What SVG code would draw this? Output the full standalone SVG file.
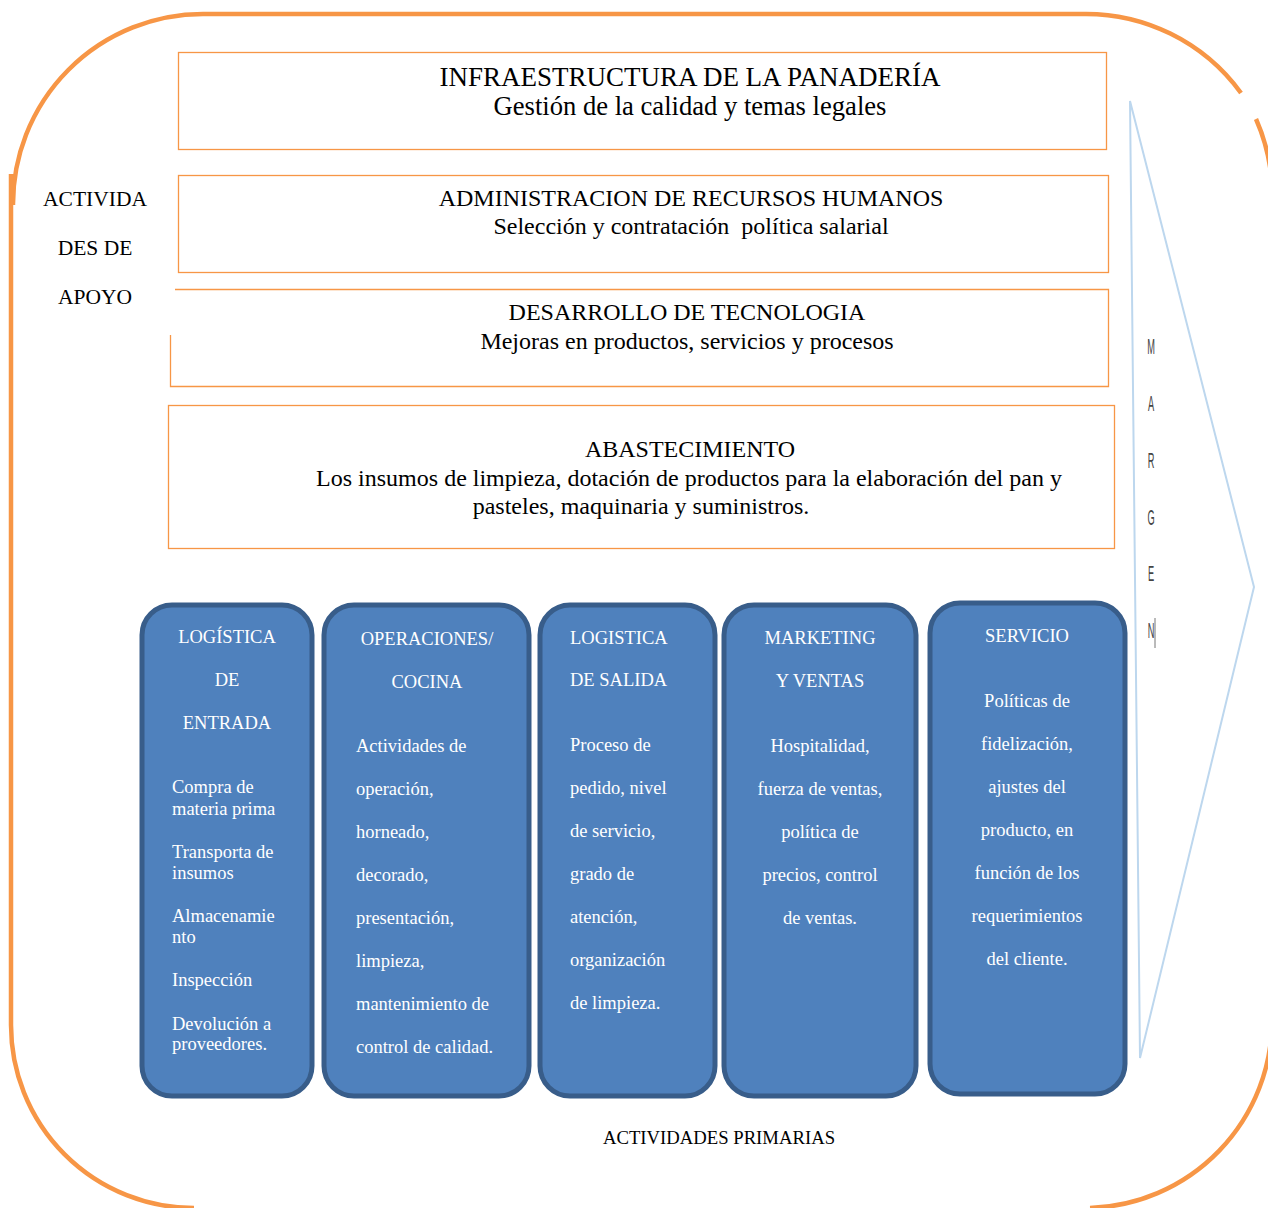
<svg xmlns="http://www.w3.org/2000/svg" width="1268" height="1208" viewBox="0 0 1268 1208">
<style>
.frame{fill:none;stroke:#F79646;stroke-width:4.5}
.sup{fill:none;stroke:#F79646;stroke-width:1.3}
.t{font-family:"Liberation Serif","Times New Roman",serif;fill:#000}
.h{font-size:24px;text-anchor:middle}
.s{font-size:24px;text-anchor:middle}
.lab{font-size:21.5px;text-anchor:middle}
.pbox{fill:#4F81BD;stroke:#385D8A;stroke-width:5}
.w{font-family:"Liberation Serif","Times New Roman",serif;fill:#fff;font-size:18.5px}
.c{text-anchor:middle}
.arrow{fill:none;stroke:#BDD7EE;stroke-width:2;stroke-linejoin:miter}
.mg{font-family:"Liberation Sans",Arial,sans-serif;font-size:22px;fill:#444;text-anchor:middle}
</style>
<rect width="1268" height="1208" fill="#fff"/>
<g id="frame">
<path class="frame" d="M13,174 V205 A190,190 0 0 1 203,14 H1080 A192,192 0 0 1 1241,93"/>
<path class="frame" d="M1256,119 A192,192 0 0 1 1272,185 V1020 A188,188 0 0 1 1090,1208"/>
<path class="frame" d="M11,174 V1025 A183,183 0 0 0 194,1208"/>
</g>
<g id="support-label">
<text class="t lab" x="95" y="206">ACTIVIDA</text>
<text class="t lab" x="95" y="255">DES DE</text>
<text class="t lab" x="95" y="304">APOYO</text>
</g>
<g id="infraestructura">
<rect class="sup" x="178.5" y="52.5" width="928" height="97"/>
<text class="t h" x="690" y="86" style="font-size:27px">INFRAESTRUCTURA DE LA PANADERÍA</text>
<text class="t s" x="690" y="115" style="font-size:26.6px">Gestión de la calidad y temas legales</text>
</g>
<g id="rrhh">
<rect class="sup" x="178.5" y="175.5" width="930" height="97"/>
<text class="t h" x="691" y="206">ADMINISTRACION DE RECURSOS HUMANOS</text>
<text class="t s" x="691" y="234" xml:space="preserve">Selección y contratación  política salarial</text>
</g>
<g id="tecnologia">
<path class="sup" d="M175,289.5 H1108.5 V386.5 H170.5 V335"/>
<text class="t h" x="687" y="320">DESARROLLO DE TECNOLOGIA</text>
<text class="t s" x="687" y="349">Mejoras en productos, servicios y procesos</text>
</g>
<g id="abastecimiento">
<rect class="sup" x="168.5" y="405.5" width="946" height="143"/>
<text class="t h" x="690" y="457">ABASTECIMIENTO</text>
<text class="t s" x="689" y="486">Los insumos de limpieza, dotación de productos para la elaboración del pan y</text>
<text class="t s" x="641" y="514">pasteles, maquinaria y suministros.</text>
</g>
<g id="margen">
<path class="arrow" d="M1130,101 L1254,587 L1140,1058 Z"/>
<g transform="translate(1151,0) scale(0.42,1)">
<text class="mg" x="0" y="354">M</text>
<text class="mg" x="0" y="411">A</text>
<text class="mg" x="0" y="468">R</text>
<text class="mg" x="0" y="525">G</text>
<text class="mg" x="0" y="581">E</text>
<text class="mg" x="0" y="638">N</text>
</g>
<line x1="1155" y1="618" x2="1155" y2="648" stroke="#777" stroke-width="1"/>
</g>
<g id="logistica-entrada">
<rect class="pbox" x="142" y="605" width="170" height="491" rx="30"/>
<text class="w c" x="227" y="643">LOGÍSTICA</text>
<text class="w c" x="227" y="686">DE</text>
<text class="w c" x="227" y="729">ENTRADA</text>
<text class="w" x="172" y="793">Compra de</text>
<text class="w" x="172" y="815">materia prima</text>
<text class="w" x="172" y="858">Transporta de</text>
<text class="w" x="172" y="879">insumos</text>
<text class="w" x="172" y="922">Almacenamie</text>
<text class="w" x="172" y="943">nto</text>
<text class="w" x="172" y="986">Inspección</text>
<text class="w" x="172" y="1030">Devolución a</text>
<text class="w" x="172" y="1050">proveedores.</text>
</g>
<g id="operaciones">
<rect class="pbox" x="324" y="605" width="205" height="491" rx="30"/>
<text class="w c" x="427" y="645">OPERACIONES/</text>
<text class="w c" x="427" y="688">COCINA</text>
<text class="w" x="356" y="752">Actividades de</text>
<text class="w" x="356" y="795">operación,</text>
<text class="w" x="356" y="838">horneado,</text>
<text class="w" x="356" y="881">decorado,</text>
<text class="w" x="356" y="924">presentación,</text>
<text class="w" x="356" y="967">limpieza,</text>
<text class="w" x="356" y="1010">mantenimiento de</text>
<text class="w" x="356" y="1053">control de calidad.</text>
</g>
<g id="logistica-salida">
<rect class="pbox" x="540" y="605" width="175" height="491" rx="30"/>
<text class="w" x="570" y="644">LOGISTICA</text>
<text class="w" x="570" y="686">DE SALIDA</text>
<text class="w" x="570" y="751">Proceso de</text>
<text class="w" x="570" y="794">pedido, nivel</text>
<text class="w" x="570" y="837">de servicio,</text>
<text class="w" x="570" y="880">grado de</text>
<text class="w" x="570" y="923">atención,</text>
<text class="w" x="570" y="966">organización</text>
<text class="w" x="570" y="1009">de limpieza.</text>
</g>
<g id="marketing">
<rect class="pbox" x="724" y="605" width="192" height="491" rx="30"/>
<text class="w c" x="820" y="644">MARKETING</text>
<text class="w c" x="820" y="687">Y VENTAS</text>
<text class="w c" x="820" y="752">Hospitalidad,</text>
<text class="w c" x="820" y="795">fuerza de ventas,</text>
<text class="w c" x="820" y="838">política de</text>
<text class="w c" x="820" y="881">precios, control</text>
<text class="w c" x="820" y="924">de ventas.</text>
</g>
<g id="servicio">
<rect class="pbox" x="930" y="603" width="195" height="491" rx="30"/>
<text class="w c" x="1027" y="642">SERVICIO</text>
<text class="w c" x="1027" y="707">Políticas de</text>
<text class="w c" x="1027" y="750">fidelización,</text>
<text class="w c" x="1027" y="793">ajustes del</text>
<text class="w c" x="1027" y="836">producto, en</text>
<text class="w c" x="1027" y="879">función de los</text>
<text class="w c" x="1027" y="922">requerimientos</text>
<text class="w c" x="1027" y="965">del cliente.</text>
</g>
<g id="primary-label">
<text class="t" x="719" y="1144" font-size="18.7" text-anchor="middle">ACTIVIDADES PRIMARIAS</text>
</g>
<g id="connectors"></g>
</svg>
